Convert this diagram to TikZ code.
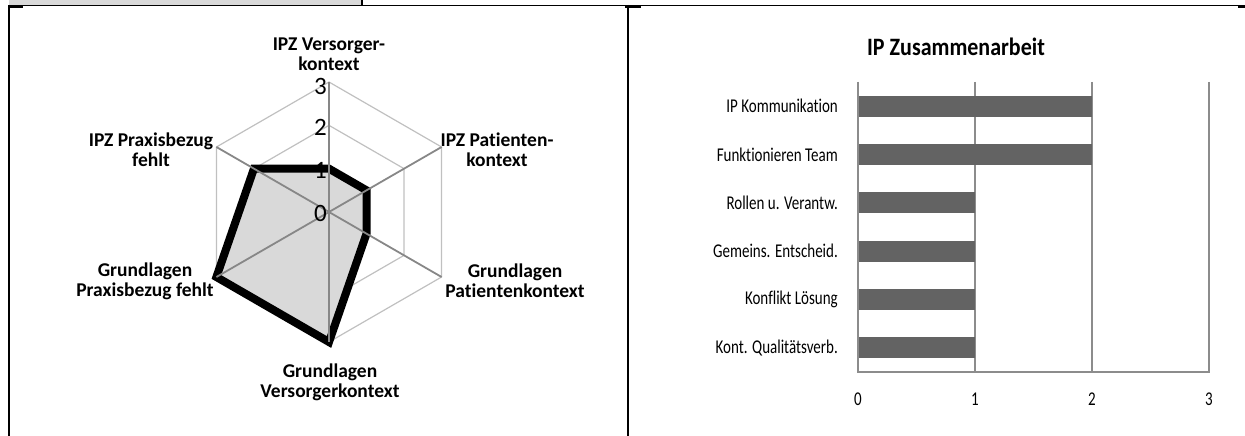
\documentclass[tikz,border=0pt]{standalone}
\usepackage{fontspec}
\setmainfont{Carlito}[Ligatures=CommonOff]
\definecolor{cellgray}{HTML}{D9D9D9}
\definecolor{ringgray}{HTML}{C0C0C0}
\definecolor{spokegray}{HTML}{878787}
\definecolor{areagray}{HTML}{D9D9D9}
\definecolor{bargray}{HTML}{636363}
\definecolor{gridgray}{HTML}{8C8C8C}
\tikzset{
  frame/.style={line width=2pt, black},
  ring/.style={draw=ringgray, line width=1.2pt},
  spoke/.style={draw=spokegray, line width=1.8pt},
  area/.style={fill=areagray, draw=black, line width=8pt, line join=miter},
  radlab/.style={font=\bfseries\fontsize{19.5}{20}\selectfont, align=center, inner sep=0pt},
  axnum/.style={font=\fontsize{25}{25}\selectfont, anchor=east, inner sep=0pt},
  grid/.style={draw=gridgray, line width=1.5pt},
  bar/.style={fill=bargray, draw=none},
  catlab/.style={font=\fontsize{19.5}{19.5}\selectfont, anchor=east, inner sep=0pt, xscale=0.77, transform shape},
  ticklab/.style={font=\fontsize{19.5}{19.5}\selectfont, inner sep=0pt, xscale=0.77, transform shape},
  ttl/.style={font=\bfseries\fontsize{25}{25}\selectfont, inner sep=0pt, xscale=0.88, transform shape}
}
\begin{document}
\begin{tikzpicture}[x=1pt,y=-1pt]
\useasboundingbox (0,0) rectangle (1245,436);
% table frame
\fill[cellgray] (9,0) rectangle (362,5);
\draw[line width=2pt] (362,0) -- (362,5);
\draw[line width=1.3pt] (9,5.5) -- (1245,5.5);
\draw[frame] (9,5) -- (9,436);
\draw[frame] (628,5) -- (628,436);
\draw[line width=2.5pt] (9,6.5) -- (23,6.5);
\draw[line width=2.5pt] (625,6.5) -- (641,6.5);
\draw[line width=2.5pt] (1238,6.5) -- (1245,6.5);

% radar chart
\coordinate (c) at (329,212);
\begin{scope}[shift={(329,212)}]
  \foreach \l in {1,2,3}{
    \draw[ring] (-90:\l*43.33) -- (-30:\l*43.33) -- (30:\l*43.33) -- (90:\l*43.33) -- (150:\l*43.33) -- (210:\l*43.33) -- cycle;
  }
  \filldraw[area] (-90:43.33) -- (-30:43.33) -- (30:43.33) -- (90:130) -- (150:130) -- (210:86.67) -- cycle;
  \foreach \a in {-90,-30,30,90,150,210}{
    \draw[spoke] (0,0) -- (\a:130);
  }
\end{scope}
\node[axnum] (n0) at (327,213) {0};
\node[axnum] (n1) at (327,170) {1};
\node[axnum] (n2) at (327,127) {2};
\node[axnum] (n3) at (327,86) {3};
\node[radlab] (lt) at (329,54) {IPZ Versorger-\\kontext};
\node[radlab] (ltr) at (497,150) {IPZ Patienten-\\kontext};
\node[radlab] (lbr) at (515,281) {Grundlagen\\Patientenkontext};
\node[radlab] (lb) at (330,382) {Grundlagen\\Versorgerkontext};
\node[radlab] (lbl) at (145,281) {Grundlagen\\Praxisbezug fehlt};
\node[radlab] (ltl) at (151,150) {IPZ Praxisbezug\\fehlt};

% bar chart
\node[ttl] (title) at (956,47) {IP Zusammenarbeit};
\foreach \i/\x in {0/858,1/975,2/1092,3/1209}{
  \draw[grid] (\x,82) -- (\x,372);
  \node[ticklab] (t\i) at (\x,399) {\i};
}
\foreach \i/\v/\t in {0/2/IP Kommunikation,1/2/Funktionieren Team,2/1/Rollen u. Verantw.,3/1/Gemeins. Entscheid.,4/1/Konflikt Lösung,5/1/Kont. Qualitätsverb.}{
  \pgfmathsetmacro{\yc}{82+48.33*(\i+0.5)}
  \pgfmathsetmacro{\xe}{858+117*\v}
  \fill[bar] (858,\yc-10.5) rectangle (\xe,\yc+10.5);
  \node[catlab] (c\i) at (838,\yc) {\t};
}
\draw[grid] (858,82) -- (858,372);
\draw[grid] (857.25,372) -- (1209.75,372);
\end{tikzpicture}
\end{document}
